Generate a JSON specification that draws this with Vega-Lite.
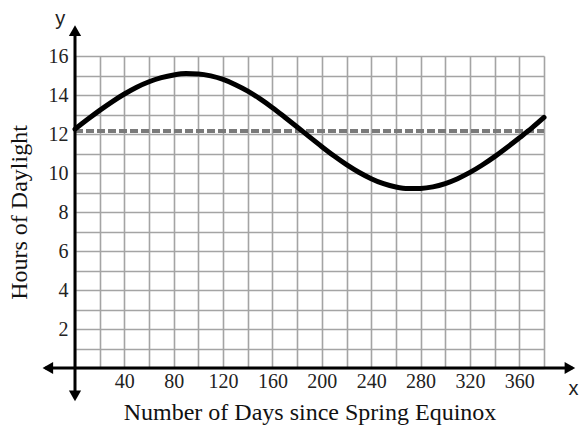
{
  "$schema": "https://vega.github.io/schema/vega-lite/v6.json",
  "width": 469,
  "height": 312,
  "autosize": {"type": "none"},
  "padding": {"left": 75, "top": 56, "right": 35, "bottom": 59},
  "background": "white",
  "config": {
    "view": {"stroke": null},
    "axis": {
      "domain": false,
      "ticks": false,
      "grid": true,
      "gridColor": "#a4a4a4",
      "gridWidth": 1.6,
      "labelFont": "Liberation Serif",
      "labelFontSize": 20,
      "labelColor": "#222222",
      "labelOverlap": false,
      "labelFlush": false,
      "titleFont": "Liberation Serif",
      "titleFontSize": 24,
      "titleFontWeight": "normal",
      "titleColor": "#111111"
    }
  },
  "encoding": {
    "x": {
      "field": "x",
      "type": "quantitative",
      "scale": {"domain": [0, 380], "nice": false, "zero": false},
      "axis": {
        "values": [0, 20, 40, 60, 80, 100, 120, 140, 160, 180, 200, 220, 240, 260, 280, 300, 320, 340, 360, 380],
        "labelExpr": "datum.value % 40 == 0 && datum.value > 0 && datum.value < 380 ? datum.label : ''",
        "labelPadding": 3,
        "title": "Number of Days since Spring Equinox",
        "titlePadding": 9
      }
    },
    "y": {
      "field": "y",
      "type": "quantitative",
      "scale": {"domain": [0, 16], "nice": false, "zero": false},
      "axis": {
        "values": [0, 1, 2, 3, 4, 5, 6, 7, 8, 9, 10, 11, 12, 13, 14, 15, 16],
        "labelExpr": "datum.value % 2 == 0 && datum.value > 0 ? datum.label : ''",
        "labelPadding": 7,
        "title": "Hours of Daylight",
        "titlePadding": 17
      }
    }
  },
  "layer": [
    {
      "data": {"values": [{"x": 0, "x2": 380, "y": 12.15}]},
      "mark": {"type": "rule", "color": "#7a7a7a", "strokeWidth": 4, "strokeDash": [8, 3]},
      "encoding": {"x2": {"field": "x2"}}
    },
    {
      "data": {"values": [
        {"x": 0, "y": 12.25}, {"x": 10, "y": 12.74}, {"x": 20, "y": 13.21}, {"x": 30, "y": 13.65},
        {"x": 40, "y": 14.05}, {"x": 50, "y": 14.40}, {"x": 60, "y": 14.68}, {"x": 70, "y": 14.89},
        {"x": 80, "y": 15.03}, {"x": 90, "y": 15.10}, {"x": 100, "y": 15.08}, {"x": 110, "y": 14.98},
        {"x": 120, "y": 14.80}, {"x": 130, "y": 14.53}, {"x": 140, "y": 14.20}, {"x": 150, "y": 13.80},
        {"x": 160, "y": 13.35}, {"x": 170, "y": 12.86}, {"x": 180, "y": 12.36}, {"x": 190, "y": 11.85},
        {"x": 200, "y": 11.35}, {"x": 210, "y": 10.87}, {"x": 220, "y": 10.43}, {"x": 230, "y": 10.04},
        {"x": 240, "y": 9.71}, {"x": 250, "y": 9.45}, {"x": 260, "y": 9.28}, {"x": 270, "y": 9.20},
        {"x": 280, "y": 9.21}, {"x": 290, "y": 9.29}, {"x": 300, "y": 9.46}, {"x": 310, "y": 9.71},
        {"x": 320, "y": 10.03}, {"x": 330, "y": 10.41}, {"x": 340, "y": 10.84}, {"x": 350, "y": 11.31},
        {"x": 360, "y": 11.80}, {"x": 370, "y": 12.30}, {"x": 380, "y": 12.85}
      ]},
      "mark": {"type": "line", "color": "black", "strokeWidth": 5, "interpolate": "monotone", "strokeCap": "round"}
    },
    {
      "data": {"values": [
        {"x": -24, "x2": 403, "y": 0, "y2": 0},
        {"x": 0, "x2": 0, "y": -1.45, "y2": 17.35}
      ]},
      "mark": {"type": "rule", "color": "black", "strokeWidth": 3},
      "encoding": {"x2": {"field": "x2"}, "y2": {"field": "y2"}}
    },
    {
      "data": {"values": [
        {"x": -22, "y": 0, "dir": "left"},
        {"x": 401, "y": 0, "dir": "right"},
        {"x": 0, "y": 17.3, "dir": "up"},
        {"x": 0, "y": -1.43, "dir": "down"}
      ]},
      "mark": {"type": "point", "filled": true, "color": "black", "opacity": 1, "size": 150},
      "encoding": {
        "shape": {
          "field": "dir",
          "type": "nominal",
          "scale": {"domain": ["left", "right", "up", "down"], "range": ["triangle-left", "triangle-right", "triangle-up", "triangle-down"]},
          "legend": null
        }
      }
    },
    {
      "data": {"values": [
        {"x": 404, "y": -1.06, "t": "x"},
        {"x": -12, "y": 17.9, "t": "y"}
      ]},
      "mark": {"type": "text", "font": "Liberation Sans", "fontSize": 20, "color": "#222222"},
      "encoding": {"text": {"field": "t"}}
    }
  ]
}
